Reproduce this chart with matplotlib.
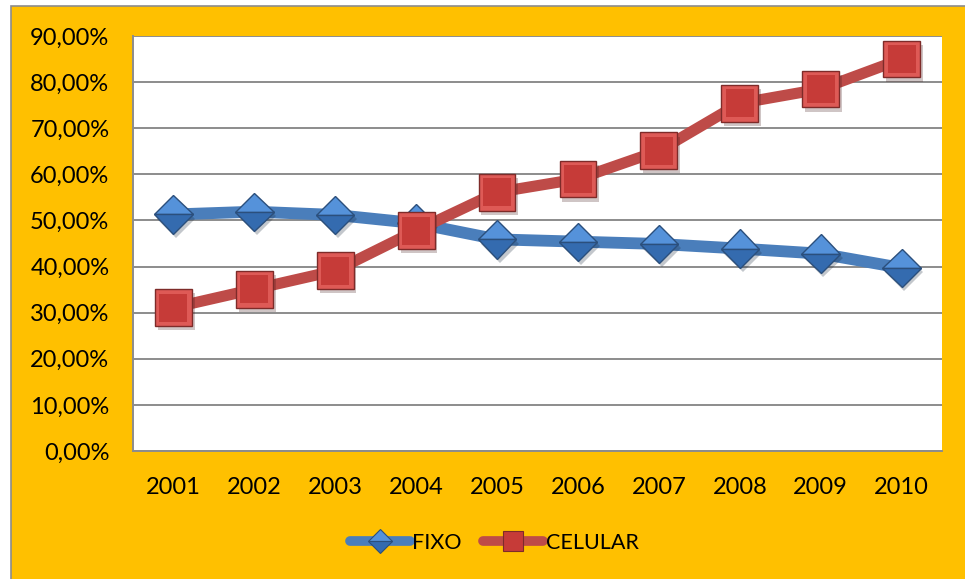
import matplotlib
matplotlib.use("Agg")
import matplotlib.pyplot as plt
import matplotlib.patheffects as pe
from matplotlib.patches import Rectangle
from matplotlib.lines import Line2D
from matplotlib.ticker import FuncFormatter

anos = ["2001", "2002", "2003", "2004", "2005", "2006", "2007", "2008", "2009", "2010"]
fixo = [51.3, 51.9, 51.2, 49.4, 45.9, 45.4, 44.9, 43.9, 42.8, 39.7]
celular = [31.1, 35.1, 39.1, 47.8, 56.1, 59.0, 65.1, 75.4, 78.5, 85.0]

laranja = "#FFC000"
azul_linha = "#4A7EBB"
verm_linha = "#BE4B48"

plt.rcParams["font.family"] = ["Lato", "DejaVu Sans"]

fig = plt.figure(figsize=(9.65, 5.79), dpi=100)
fig.patch.set_facecolor("white")

# fundo laranja da area do grafico
fundo = Rectangle((11 / 965, -0.1), 1.2, 1.1 - 6 / 579, transform=fig.transFigure,
                  facecolor=laranja, edgecolor="#8C8C8C", linewidth=1.2, zorder=-5)
fig.patches.append(fundo)

ax = fig.add_axes([133 / 965, 1 - 451 / 579, 809 / 965, 415 / 579])
ax.set_zorder(2)
ax.set_facecolor("white")

x = list(range(len(anos)))
sombra = [pe.SimplePatchShadow(offset=(2, -3), alpha=0.25), pe.Normal()]

# FIXO
ax.plot(x, fixo, color=azul_linha, linewidth=8.5, solid_capstyle="round", zorder=3)
ax.plot(x, fixo, linestyle="none", marker="D", markersize=19.5, fillstyle="top",
        markerfacecolor="#5592DA", markerfacecoloralt="#346BAF",
        markeredgecolor="#2B4F7C", markeredgewidth=1.0, path_effects=sombra, zorder=4)

# CELULAR
ax.plot(x, celular, color=verm_linha, linewidth=8, solid_capstyle="round", zorder=5)
ax.plot(x, celular, linestyle="none", marker="s", markersize=26.5,
        markerfacecolor="#DE5A56", markeredgecolor="#7E2B29", markeredgewidth=1.0,
        path_effects=sombra, zorder=6)
ax.plot(x, celular, linestyle="none", marker="s", markersize=19.5,
        markerfacecolor="#C63B38", markeredgewidth=0, zorder=7)

ax.set_xlim(-0.5, len(anos) - 0.5)
ax.set_ylim(0, 90)
ax.set_yticks(range(0, 91, 10))
ax.yaxis.set_major_formatter(FuncFormatter(lambda v, p: f"{v:.2f}%".replace(".", ",")))
ax.set_xticks(x)
ax.set_xticklabels(anos)
ax.tick_params(axis="both", length=0, labelsize=17, labelcolor="black")
ax.tick_params(axis="y", pad=17)
ax.tick_params(axis="x", pad=19)

ax.grid(axis="y", color="#8C8C8C", linewidth=1.4)
ax.set_axisbelow(True)
for lado in ["top", "right"]:
    ax.spines[lado].set_visible(False)
for lado in ["left", "bottom"]:
    ax.spines[lado].set_color("#8C8C8C")
    ax.spines[lado].set_linewidth(1.4)

h_fixo = Line2D([], [], color=azul_linha, linewidth=7, solid_capstyle="round",
                marker="D", markersize=12, fillstyle="top",
                markerfacecolor="#5592DA", markerfacecoloralt="#346BAF",
                markeredgecolor="#2B4F7C", markeredgewidth=0.8)
h_cel = Line2D([], [], color=verm_linha, linewidth=7, solid_capstyle="round",
               marker="s", markersize=14, markerfacecolor="#C63B38",
               markeredgecolor="#7E2B29", markeredgewidth=0.8)
fig.legend([h_fixo, h_cel], ["FIXO", "CELULAR"], loc="center",
           bbox_to_anchor=(494 / 965, 1 - 543 / 579), ncol=2, frameon=False,
           fontsize=15.5, handlelength=2.8, handletextpad=0.1, columnspacing=1.0)

fig.savefig("out.png", dpi=100)
